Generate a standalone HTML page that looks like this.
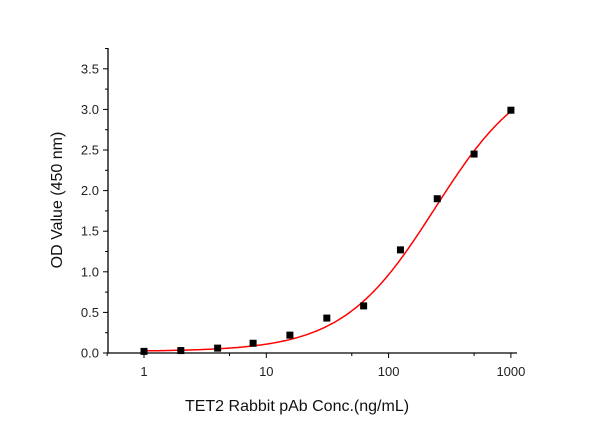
<!DOCTYPE html>
<html><head><meta charset="utf-8"><style>
body{margin:0;background:#fff;}
svg{display:block;font-family:"Liberation Sans",Arial,sans-serif;}
</style></head><body>
<svg id="chart" width="600" height="424"></svg>
<script>
const concentrations=[1,2,4,7.8,15.6,31.25,62.5,125,250,500,1000];
const odValues=[0.02,0.03,0.06,0.12,0.22,0.43,0.58,1.27,1.90,2.45,2.99];
const yTicks=[0,0.5,1,1.5,2,2.5,3,3.5];
const yTickLabels=["0.0","0.5","1.0","1.5","2.0","2.5","3.0","3.5"];
const xTicks=[1,10,100,1000];
const xTickLabels=["1","10","100","1000"];
const fitParams=[0.02,3.55,240,1.15]; // bottom, top, EC50, hill

const NS="http://www.w3.org/2000/svg";
const svg=document.getElementById('chart');
function el(t,a,p){const e=document.createElementNS(NS,t);for(const k in a)e.setAttribute(k,a[k]);(p||svg).appendChild(e);return e;}
const X0=108,X1=517,Y0=353,Ytop=48;
const xs=v=>144+Math.log10(v)*122.3;
const ys=v=>353-v*81.2;

const axes=el('g',{});


let a=el('line',{x1:X0,y1:Ytop,x2:X0,y2:Y0,stroke:'#000','stroke-width':1.3},axes);

a=el('line',{x1:X0,y1:Y0,x2:X1,y2:Y0,stroke:'#000','stroke-width':1.3},axes);


yTicks.forEach((v,i)=>{
  el('line',{x1:X0-5,y1:ys(v),x2:X0,y2:ys(v),stroke:'#000'},axes);
  el('line',{x1:X0-3,y1:ys(v+0.25),x2:X0,y2:ys(v+0.25),stroke:'#000'},axes);
  const t=el('text',{x:X0-9,y:ys(v)+4.5,'text-anchor':'end','font-size':13,fill:'#222'},axes);
  t.textContent=yTickLabels[i];
  
});
xTicks.forEach((v,i)=>{
  el('line',{x1:xs(v),y1:Y0,x2:xs(v),y2:Y0+5,stroke:'#000'},axes);
  const t=el('text',{x:xs(v),y:Y0+23,'text-anchor':'middle','font-size':13,fill:'#222'},axes);
  t.textContent=xTickLabels[i];
  
});
[0.5,5,50,500].forEach(v=>{el('line',{x1:xs(v),y1:Y0,x2:xs(v),y2:Y0+3,stroke:'#000'},axes);});

let t=el('text',{x:297,y:411,'text-anchor':'middle','font-size':16,fill:'#111'});
t.textContent='TET2 Rabbit pAb Conc.(ng/mL)';

t=el('text',{x:0,y:0,'text-anchor':'middle','font-size':16,fill:'#111',transform:'translate(62,200) rotate(-90)'});
t.textContent='OD Value (450 nm)';


const [b,tp,c,h]=fitParams;
let d='';
for(let i=0;i<=200;i++){const lv=i*3/200;const v=Math.pow(10,lv);
  const y=b+(tp-b)/(1+Math.pow(c/v,h));d+=(i?'L':'M')+xs(v).toFixed(1)+','+ys(y).toFixed(1);}
const curve=el('path',{d:d,fill:'none',stroke:'#ff0000','stroke-width':1.5});


concentrations.forEach((cv,i)=>{
  const r=el('rect',{x:xs(cv)-3.5,y:ys(odValues[i])-3.5,width:7,height:7,fill:'#000'});
  
});
</script>
</body></html>
